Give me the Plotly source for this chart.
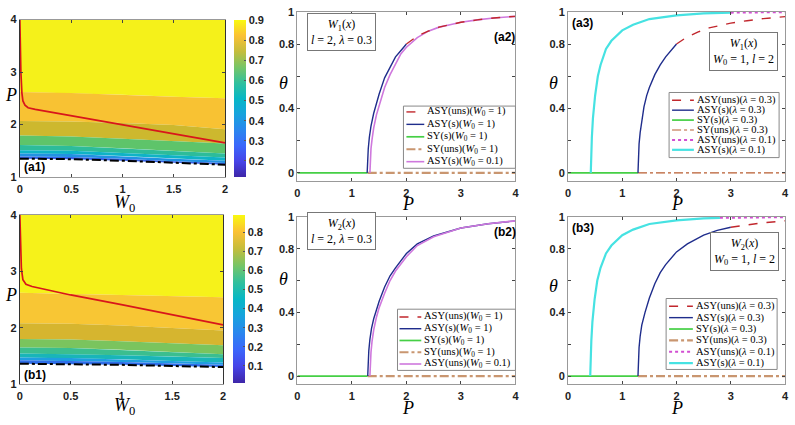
import plotly.graph_objects as go

W, H = 795, 425

# ---------------- contour panels (a1), (b1): band edges P(W0) ----------------
W0_GRID = [0, 0.5, 1, 1.5, 2]
P_TOP = [4, 4, 4, 4, 4]

A1_E1 = [2.62, 2.60, 2.57, 2.53, 2.50]
A1_E2 = [2.07, 2.06, 2.03, 1.99, 1.91]
A1_E3 = [1.79, 1.77, 1.73, 1.69, 1.64]
A1_E4 = [1.61, 1.59, 1.55, 1.50, 1.45]
A1_E5 = [1.51, 1.50, 1.46, 1.41, 1.37]
A1_E6 = [1.45, 1.44, 1.40, 1.35, 1.31]
A1_E7 = [1.39, 1.38, 1.35, 1.30, 1.265]
A1_BLACK = [1.35, 1.34, 1.31, 1.27, 1.235]
A1_RED_W0 = [0, 0.005, 0.01, 0.02, 0.03, 0.05, 0.08, 0.15, 0.5, 1.0, 1.5, 2.0]
A1_RED_P = [4.0, 3.4, 3.0, 2.6, 2.45, 2.37, 2.32, 2.29, 2.17, 2.0, 1.82, 1.65]

B1_E1 = [2.62, 2.60, 2.58, 2.56, 2.54]
B1_E2 = [2.08, 2.07, 2.04, 2.00, 1.95]
B1_E3 = [1.80, 1.79, 1.76, 1.73, 1.69]
B1_E4 = [1.65, 1.64, 1.61, 1.57, 1.53]
B1_E5 = [1.54, 1.53, 1.51, 1.49, 1.46]
B1_E6 = [1.47, 1.46, 1.44, 1.41, 1.38]
B1_E7 = [1.42, 1.41, 1.39, 1.37, 1.34]
B1_BLACK = [1.36, 1.355, 1.34, 1.32, 1.30]
B1_RED_W0 = [0, 0.005, 0.015, 0.03, 0.06, 0.12, 0.5, 1.0, 1.5, 2.0]
B1_RED_P = [4.0, 3.5, 3.05, 2.85, 2.77, 2.73, 2.58, 2.41, 2.23, 2.05]

A1_CBAR_TICKS = [0.2, 0.3, 0.4, 0.5, 0.6, 0.7, 0.8, 0.9]
B1_CBAR_TICKS = [0.1, 0.2, 0.3, 0.4, 0.5, 0.6, 0.7, 0.8]

# ---------------- theta(P) panels ----------------
SY_S_P = [0, 1.29]
SY_S_T = [0, 0]
SY_U_P = [1.29, 4]
SY_U_T = [0, 0]

A2_ASYS_P = [1.28, 1.285, 1.29, 1.30, 1.32, 1.35, 1.40, 1.45, 1.5, 1.6, 1.7, 1.8, 1.9, 2.0]
A2_ASYS_T = [0, 0.06, 0.10, 0.15, 0.22, 0.29, 0.37, 0.43, 0.49, 0.59, 0.66, 0.72, 0.76, 0.80]
A2_ASYU_P = [2.0, 2.2, 2.4, 2.6, 2.8, 3.0, 3.3, 3.6, 4.0]
A2_ASYU_T = [0.80, 0.85, 0.88, 0.905, 0.92, 0.935, 0.95, 0.962, 0.972]
A2_W01_P = [1.33, 1.335, 1.34, 1.35, 1.37, 1.40, 1.45, 1.5, 1.6, 1.7, 1.8, 1.9, 2.0,
            2.2, 2.4, 2.6, 2.8, 3.0, 3.3, 3.6, 4.0]
A2_W01_T = [0, 0.06, 0.10, 0.15, 0.21, 0.28, 0.36, 0.42, 0.53, 0.61, 0.68, 0.74, 0.78,
            0.84, 0.88, 0.905, 0.92, 0.935, 0.95, 0.962, 0.972]

A3_ASYS_P = [1.29, 1.295, 1.30, 1.31, 1.33, 1.36, 1.40, 1.45, 1.5, 1.6, 1.7, 1.8, 1.9, 2.0]
A3_ASYS_T = [0, 0.08, 0.12, 0.18, 0.25, 0.33, 0.41, 0.48, 0.53, 0.61, 0.67, 0.72, 0.76, 0.80]
A3_ASYU_P = [2.0, 2.2, 2.4, 2.6, 2.8, 3.0, 3.3, 3.6, 4.0]
A3_ASYU_T = [0.80, 0.845, 0.875, 0.90, 0.915, 0.93, 0.945, 0.958, 0.97]
A3_L01S_P = [0.42, 0.425, 0.43, 0.44, 0.46, 0.48, 0.5, 0.55, 0.6, 0.7, 0.8, 1.0, 1.2, 1.5,
             2.0, 2.5, 3.0]
A3_L01S_T = [0, 0.08, 0.13, 0.22, 0.34, 0.42, 0.48, 0.60, 0.67, 0.77, 0.82, 0.885, 0.92,
             0.955, 0.978, 0.99, 0.995]
A3_L01U_P = [3.0, 3.5, 4.0]
A3_L01U_T = [0.995, 0.997, 0.998]

B2_ASYS_P = [1.29, 1.295, 1.30, 1.31, 1.33, 1.36, 1.40, 1.45, 1.5, 1.6, 1.7, 1.8, 2.0,
             2.2, 2.5, 3.0, 3.5, 4.0]
B2_ASYS_T = [0, 0.07, 0.10, 0.16, 0.23, 0.30, 0.36, 0.42, 0.47, 0.56, 0.63, 0.68, 0.77,
             0.83, 0.88, 0.93, 0.957, 0.975]
B2_W01_P = [1.33, 1.335, 1.34, 1.35, 1.37, 1.40, 1.45, 1.5, 1.6, 1.7, 1.8, 2.0, 2.2, 2.5,
            3.0, 3.5, 4.0]
B2_W01_T = [0, 0.07, 0.10, 0.15, 0.22, 0.29, 0.37, 0.43, 0.52, 0.60, 0.66, 0.75, 0.82,
            0.875, 0.93, 0.957, 0.975]

B3_ASYS_P = [1.29, 1.295, 1.30, 1.31, 1.33, 1.36, 1.42, 1.5, 1.6, 1.7, 1.8, 2.0, 2.2, 2.5,
             2.75, 3.0]
B3_ASYS_T = [0, 0.08, 0.12, 0.18, 0.25, 0.32, 0.40, 0.49, 0.58, 0.65, 0.70, 0.78, 0.83,
             0.885, 0.915, 0.935]
B3_ASYU_P = [3.0, 3.3, 3.6, 4.0]
B3_ASYU_T = [0.935, 0.95, 0.963, 0.975]
B3_L01S_P = [0.41, 0.415, 0.42, 0.43, 0.45, 0.47, 0.49, 0.54, 0.6, 0.7, 0.8, 1.0, 1.2, 1.5,
             2.0, 2.5, 2.8]
B3_L01S_T = [0, 0.08, 0.13, 0.22, 0.34, 0.42, 0.48, 0.60, 0.68, 0.77, 0.82, 0.885, 0.92,
             0.955, 0.978, 0.99, 0.994]
B3_L01U_P = [2.8, 3.4, 4.0]
B3_L01U_T = [0.994, 0.997, 0.998]

# ---------------- styles ----------------
PARULA = [[0, '#3e26a8'], [0.1, '#4744e8'], [0.2, '#3b67fb'], [0.3, '#2a87ee'],
          [0.4, '#17a3dd'], [0.5, '#07b7c5'], [0.6, '#32c09c'], [0.7, '#78c566'],
          [0.8, '#c5bd3c'], [0.9, '#fbc134'], [1, '#f9f90f']]
A1_COLORS = ['#f5f11a', '#f8c233', '#cdb82e', '#5ec46a', '#2dbc9a', '#0fb3c6', '#2192e2', '#3563e6']
B1_COLORS = ['#f6f21a', '#f8c634', '#d6b52f', '#7ac45e', '#3bbe8f', '#19b5b8', '#1f9ee0', '#2f6ee8']

RED_DASH = dict(color='#c1272d', width=1.4, dash='dash')
NAVY = dict(color='#1f2d8c', width=1.4)
GREEN = dict(color='#45cf45', width=1.7)
TAN_DD = dict(color='#c99670', width=2.2, dash='dashdot')
RUST_DD = dict(color='#b85c30', width=1.2, dash='dashdot')
VIOLET = dict(color='#cf78dd', width=1.6)
MAGENTA_DOT = dict(color='#d24fd2', width=2, dash='dot')
CYAN = dict(color='#46e2e2', width=2.2)
BLACK_DD = dict(color='black', width=2, dash='dashdot')
RED_LINE = dict(color='#d8161b', width=1.7)

SERIF = 'Liberation Serif'
SANS = 'Liberation Sans'


def px(x):
    return x / W


def py(y):
    return 1 - y / H


fig = go.Figure()
shapes = []
annotations = []


def band(lo, hi, color, xa, ya):
    fig.add_trace(go.Scatter(x=W0_GRID + W0_GRID[::-1], y=lo + hi[::-1], mode='lines',
                             fill='toself', fillcolor=color, line=dict(width=0),
                             xaxis=xa, yaxis=ya, showlegend=False, hoverinfo='skip'))


def curve(p, t, style, xa, ya):
    fig.add_trace(go.Scatter(x=p, y=t, mode='lines', line=style, xaxis=xa, yaxis=ya,
                             showlegend=False, hoverinfo='skip'))


def colorbar(xa, ya, cmin, cmax, ticks, x0, y0, y1):
    fig.add_trace(go.Scatter(
        x=[-5], y=[-5], mode='markers', xaxis=xa, yaxis=ya, showlegend=False, hoverinfo='skip',
        marker=dict(color=[cmin], colorscale=PARULA, cmin=cmin, cmax=cmax, showscale=True,
                    colorbar=dict(x=px(x0), xanchor='left', y=py(y1), yanchor='bottom',
                                  len=(y1 - y0) / H, thickness=12, xpad=0, ypad=0,
                                  outlinewidth=0, tickvals=ticks, tickformat='.1f',
                                  ticks='inside', ticklen=2, tickcolor='#555',
                                  tickfont=dict(family=SANS, size=11, color='#222',
                                                weight='bold')))))


# (a1)
edges = [P_TOP, A1_E1, A1_E2, A1_E3, A1_E4, A1_E5, A1_E6, A1_E7, A1_BLACK]
for i, c in enumerate(A1_COLORS):
    band(edges[i + 1], edges[i], c, 'x', 'y')
curve(W0_GRID, A1_BLACK, BLACK_DD, 'x', 'y')
curve(A1_RED_W0, A1_RED_P, RED_LINE, 'x', 'y')
colorbar('x', 'y', 0.12, 0.9, A1_CBAR_TICKS, 233, 14, 176)

# (b1)
edges = [P_TOP, B1_E1, B1_E2, B1_E3, B1_E4, B1_E5, B1_E6, B1_E7, B1_BLACK]
for i, c in enumerate(B1_COLORS):
    band(edges[i + 1], edges[i], c, 'x4', 'y4')
curve(W0_GRID, B1_BLACK, BLACK_DD, 'x4', 'y4')
curve(B1_RED_W0, B1_RED_P, RED_LINE, 'x4', 'y4')
colorbar('x4', 'y4', 0.01, 0.89, B1_CBAR_TICKS, 232, 215, 388)

# (a2)
curve(SY_S_P, SY_S_T, GREEN, 'x2', 'y2')
curve(SY_U_P, SY_U_T, TAN_DD, 'x2', 'y2')
curve(A2_W01_P, A2_W01_T, VIOLET, 'x2', 'y2')
curve(A2_ASYS_P, A2_ASYS_T, NAVY, 'x2', 'y2')
curve(A2_ASYU_P, A2_ASYU_T, RED_DASH, 'x2', 'y2')

# (a3)
curve(SY_S_P, SY_S_T, GREEN, 'x3', 'y3')
curve(SY_U_P, SY_U_T, RUST_DD, 'x3', 'y3')
curve(A3_ASYS_P, A3_ASYS_T, NAVY, 'x3', 'y3')
curve(A3_ASYU_P, A3_ASYU_T, RED_DASH, 'x3', 'y3')
curve(A3_L01S_P, A3_L01S_T, CYAN, 'x3', 'y3')
curve(A3_L01U_P, A3_L01U_T, MAGENTA_DOT, 'x3', 'y3')

# (b2)
curve(SY_S_P, SY_S_T, GREEN, 'x5', 'y5')
curve(SY_U_P, SY_U_T, TAN_DD, 'x5', 'y5')
curve(B2_ASYS_P, B2_ASYS_T, NAVY, 'x5', 'y5')
curve(B2_W01_P, B2_W01_T, VIOLET, 'x5', 'y5')

# (b3)
curve(SY_S_P, SY_S_T, GREEN, 'x6', 'y6')
curve(SY_U_P, SY_U_T, TAN_DD, 'x6', 'y6')
curve(B3_ASYS_P, B3_ASYS_T, NAVY, 'x6', 'y6')
curve(B3_ASYU_P, B3_ASYU_T, RED_DASH, 'x6', 'y6')
curve(B3_L01S_P, B3_L01S_T, CYAN, 'x6', 'y6')
curve(B3_L01U_P, B3_L01U_T, MAGENTA_DOT, 'x6', 'y6')

# ---------------- axes ----------------
TICKFONT = dict(family=SANS, size=11, color='#222', weight='bold')


def axis(x0, x1, rng, vals, text=None, anchor=None, horiz=True):
    d = dict(range=rng, tickvals=vals, ticks='inside', ticklen=3, tickcolor='#444',
             showline=True, linecolor='#999', linewidth=1, mirror='ticks', showgrid=False,
             zeroline=False, tickfont=TICKFONT, anchor=anchor, fixedrange=True,
             ticklabeloverflow='allow')
    if text is not None:
        d['ticktext'] = text
    if horiz:
        d['domain'] = [px(x0), px(x1)]
        d['ticklabelstandoff'] = 2
    else:
        d['domain'] = [py(x1), py(x0)]
    return d


TH_VALS = [0, 0.2, 0.4, 0.6, 0.8, 1]
TH_TEXT = ['0', ' ', '0.4', ' ', '0.8', '1']
W0_TICKS = [0, 0.5, 1, 1.5, 2]
W0_TEXT = ['0', '0.5', '1', '1.5', '2']
P_TICKS = [0, 1, 2, 3, 4]

layout_axes = dict(
    xaxis=axis(17, 224, [0, 2], W0_TICKS, W0_TEXT, 'y'),
    yaxis=axis(14, 176, [1, 4], [1, 2, 3, 4], None, 'x', False),
    xaxis2=axis(297, 517, [0, 4], P_TICKS, None, 'y2'),
    yaxis2=axis(6, 180, [-0.05, 1], TH_VALS, TH_TEXT, 'x2', False),
    xaxis3=axis(570, 789, [0, 4], P_TICKS, None, 'y3'),
    yaxis3=axis(6, 180, [-0.05, 1], TH_VALS, TH_TEXT, 'x3', False),
    xaxis4=axis(17, 222, [0, 2], W0_TICKS, W0_TEXT, 'y4'),
    yaxis4=axis(215, 389, [1, 4], [1, 2, 3, 4], None, 'x4', False),
    xaxis5=axis(297, 517, [0, 4], P_TICKS, None, 'y5'),
    yaxis5=axis(217, 389, [-0.05, 1], TH_VALS, TH_TEXT, 'x5', False),
    xaxis6=axis(570, 789, [0, 4], P_TICKS, None, 'y6'),
    yaxis6=axis(217, 389, [-0.05, 1], TH_VALS, TH_TEXT, 'x6', False),
)
for k in ('yaxis', 'yaxis4'):
    layout_axes[k]['linecolor'] = '#333'


# ---------------- text: axis titles, panel tags, info boxes ----------------
def text(s, x, y, size, family=SERIF, xanchor='center', **kw):
    annotations.append(dict(text=s, x=px(x), y=py(y), xref='paper', yref='paper',
                            xanchor=xanchor, yanchor='middle', showarrow=False,
                            font=dict(family=family, size=size, color='black'), **kw))


W0_TITLE = '<i>W</i><sub>0</sub>'
for s, x, y in [('<i>P</i>', 8, 92), (W0_TITLE, 123, 203), ('<i>P</i>', 8, 297),
                (W0_TITLE, 123, 412), ('<i>θ</i>', 283, 79), ('<i>P</i>', 409, 204),
                ('<i>θ</i>', 555, 79), ('<i>P</i>', 680, 204), ('<i>θ</i>', 283, 281),
                ('<i>P</i>', 409, 414), ('<i>θ</i>', 555, 288), ('<i>P</i>', 680, 414)]:
    text(s, x, y, 18)

for s, x, y in [('(a1)', 19, 166), ('(a2)', 493, 32), ('(a3)', 572, 17),
                ('(b1)', 19, 380), ('(b2)', 493, 233), ('(b3)', 572, 228)]:
    annotations.append(dict(text='<b>%s</b>' % s, x=px(x), y=py(y), xref='paper',
                            yref='paper', xanchor='left', yanchor='middle', showarrow=False,
                            font=dict(family=SANS, size=12, color='black')))

BOX_A = '<i>W</i><sub>%d</sub>(<i>x</i>)<br><i>l</i> = 2, <i>λ</i> = 0.3'
BOX_B = '<i>W</i><sub>%d</sub>(<i>x</i>)<br><i>W</i><sub>0</sub> = 1, <i>l</i> = 2'
for s, x, y in [(BOX_A % 1, 342, 27), (BOX_B % 1, 747, 47), (BOX_A % 2, 342, 232),
                (BOX_B % 2, 748, 253)]:
    text(s, x, y, 12, bordercolor='#777', borderwidth=1, borderpad=3, bgcolor='white')


# ---------------- hand-built legends ----------------
def legend(x0, y0, x1, y1, rows, row0, step, sx0, sx1):
    shapes.append(dict(type='rect', xref='paper', yref='paper', x0=px(x0), x1=px(x1),
                       y0=py(y1), y1=py(y0), fillcolor='white',
                       line=dict(color='#888', width=1), layer='above'))
    for i, (label, style) in enumerate(rows):
        y = row0 + i * step
        shapes.append(dict(type='line', xref='paper', yref='paper', x0=px(sx0), x1=px(sx1),
                           y0=py(y), y1=py(y), line=style, layer='above'))
        text(label, sx1 + 1, y, 10.5, xanchor='left')


W0L = '(<i>W</i><sub>0</sub> = %s)'
LAM = '(<i>λ</i> = %s)'
legend(404, 103, 517, 167, [('ASY(uns)' + W0L % 1, RED_DASH), ('ASY(s)' + W0L % 1, NAVY),
                            ('SY(s)' + W0L % 1, GREEN), ('SY(uns)' + W0L % 1, TAN_DD),
                            ('ASY(s)' + W0L % 0.1, VIOLET)], 109, 12.8, 407, 425)
legend(398, 312, 517, 375, [('ASY(uns)' + W0L % 1, RED_DASH), ('ASY(s)' + W0L % 1, NAVY),
                            ('SY(s)' + W0L % 1, GREEN), ('SY(uns)' + W0L % 1, TAN_DD),
                            ('ASY(uns)' + W0L % 0.1, VIOLET)], 320, 12.1, 400, 422)
legend(672, 89, 783, 156, [('ASY(uns)' + LAM % 0.3, RED_DASH), ('ASY(s)' + LAM % 0.3, NAVY),
                           ('SY(s)' + LAM % 0.3, GREEN), ('SY(uns)' + LAM % 0.3, RUST_DD),
                           ('ASY(uns)' + LAM % 0.1, MAGENTA_DOT),
                           ('ASY(s)' + LAM % 0.1, CYAN)], 97, 10.2, 675, 697)
legend(669, 301, 781, 374, [('ASY(uns)' + LAM % 0.3, RED_DASH), ('ASY(s)' + LAM % 0.3, NAVY),
                            ('SY(s)' + LAM % 0.3, GREEN), ('SY(uns)' + LAM % 0.3, TAN_DD),
                            ('ASY(uns)' + LAM % 0.1, MAGENTA_DOT),
                            ('ASY(s)' + LAM % 0.1, CYAN)], 309, 11.7, 672, 696)

fig.update_layout(width=W, height=H, margin=dict(l=0, r=0, t=0, b=0),
                  paper_bgcolor='white', plot_bgcolor='white', showlegend=False,
                  font=dict(family=SANS), shapes=shapes, annotations=annotations,
                  **layout_axes)

# the page's default body margin would push the figure 8px right/down
fig.write_html("out.html", config={'displayModeBar': False},
               post_script="document.body.style.margin='0';")
